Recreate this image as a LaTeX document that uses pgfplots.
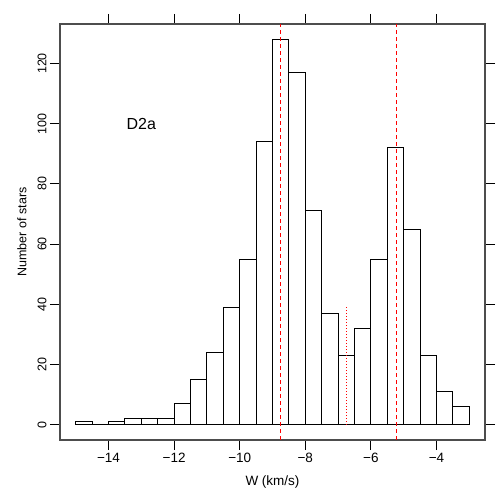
\documentclass[border=0pt]{standalone}
\usepackage{fontspec}
\setmainfont{Liberation Sans}
\usepackage{pgfplots}
\pgfplotsset{compat=1.18}
\definecolor{boxgray}{HTML}{4D4D4D}
\definecolor{rline}{HTML}{FF0000}
\begin{document}
\begin{tikzpicture}
\useasboundingbox (0,0) rectangle (500pt,500pt);
\begin{axis}[
  at={(60pt,60pt)}, anchor=south west,
  scale only axis, width=425pt, height=416pt,
  xmin=-15.48, xmax=-2.52, ymin=-5.12, ymax=133.12,
  xtick={-14,-12,-10,-8,-6,-4},
  xticklabels={−14,−12,−10,−8,−6,−4},
  ytick={0,20,40,60,80,100,120},
  /pgf/number format/assume math mode=true,
  tick align=outside,
  major tick length=10pt,
  xticklabel pos=lower, yticklabel pos=left,
  xtick pos=both, ytick pos=both,
  tick style={black, line width=0.8pt},
  axis line style={boxgray, line width=1.2pt},
  xticklabel style={font=\fontsize{13.5}{15}\selectfont},
  yticklabel style={font=\fontsize{12.5}{14}\selectfont, rotate=90, anchor=south},
  xlabel={W (km/s)}, ylabel={Number of stars},
  xlabel style={font=\fontsize{13.5}{15}\selectfont, at={(axis description cs:0.5,-0.101)}, anchor=center},
  ylabel style={font=\fontsize{12.5}{14}\selectfont, at={(axis description cs:-0.0896,0.5)}, anchor=center},
  clip=false,
]
\addplot[ybar interval, draw=black, fill=white, line width=0.9pt] coordinates {
(-15,1) (-14.5,0) (-14,1) (-13.5,2) (-13,2) (-12.5,2) (-12,7) (-11.5,15)
(-11,24) (-10.5,39) (-10,55) (-9.5,94) (-9,128) (-8.5,117) (-8,71)
(-7.5,37) (-7,23) (-6.5,32) (-6,55) (-5.5,92) (-5,65) (-4.5,23)
(-4,11) (-3.5,6) (-3,6)
};
\addplot[draw=rline, mark=none, line width=1.4pt, dash pattern=on 4pt off 3pt] coordinates {(-8.75,-5.12) (-8.75,133.12)};
\addplot[draw=rline, mark=none, line width=1.4pt, dash pattern=on 4pt off 3pt] coordinates {(-5.22,-5.12) (-5.22,133.12)};
\addplot[draw=rline, mark=none, line width=0.9pt, dash pattern=on 1pt off 2pt] coordinates {(-6.74,0) (-6.74,39)};
\node[font=\fontsize{16}{18}\selectfont] at (axis cs:-13,100) {D2a};
\end{axis}
\end{tikzpicture}
\end{document}
